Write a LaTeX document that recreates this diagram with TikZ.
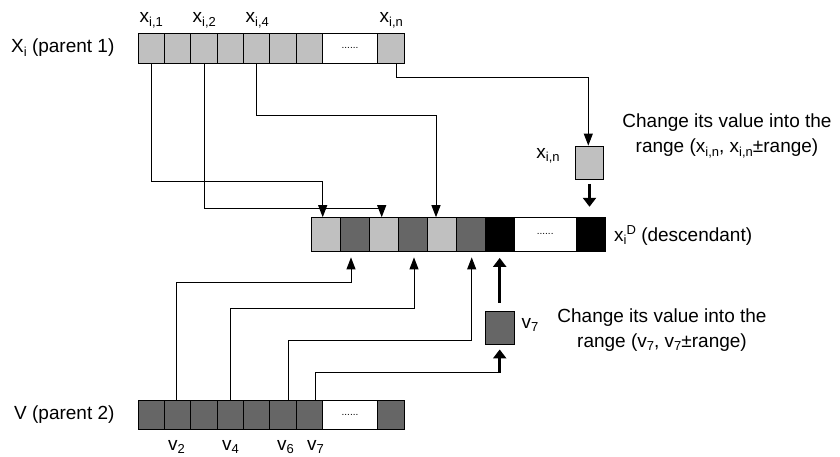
\documentclass[tikz,border=0pt]{standalone}
\usepackage{fontspec}
\setmainfont{Liberation Sans}
\usetikzlibrary{arrows.meta,calc}
\definecolor{cellL}{RGB}{192,192,192}
\definecolor{cellD}{RGB}{102,102,102}
\newcommand\sbs[1]{\raisebox{-3.5pt}{\fontsize{13}{13}\selectfont #1}}
\newcommand\sps[1]{\raisebox{7pt}{\fontsize{13}{13}\selectfont #1}}
\newcommand\dotsfill{{\fontsize{10}{10}\selectfont ......}}
\tikzset{
  cellbox/.style={draw=black, line width=0.9pt, inner sep=0pt},
  topcell/.style={cellbox, minimum height=30pt},
  midcell/.style={cellbox, minimum height=33.3pt, minimum width=29pt},
  botcell/.style={cellbox, minimum height=29pt},
  txt/.style={inner sep=0pt, font=\fontsize{19}{25}\selectfont},
  arr/.style={line width=1pt, -{Triangle[length=12pt,width=9pt]}},
  tarr/.style={line width=3pt, -{Triangle[length=9pt,width=13pt]}},
  plain/.style={line width=1pt}
}
\begin{document}
\begin{tikzpicture}[x=1pt,y=-1pt]
\useasboundingbox (0,0) rectangle (840,457);
% top array (parent 1)
\foreach \i in {1,...,7}
  \node[topcell, fill=cellL, minimum width=26.3pt] (t\i) at ({138.3+26.3*(\i-0.5)},48.3) {};
\node[topcell, fill=white, minimum width=55.3pt] (t8) at (350,48.3) {\dotsfill};
\node[topcell, fill=cellL, minimum width=26.6pt] (t9) at (391,48.3) {};
% middle array (descendant)
\foreach \i/\c in {1/cellL,2/cellD,3/cellL,4/cellD,5/cellL,6/cellD,7/black}
  \node[midcell, fill=\c] (m\i) at ({311+29*(\i-0.5)},234.3) {};
\node[midcell, fill=white, minimum width=62.3pt] (m8) at (545.2,234.3) {\dotsfill};
\node[midcell, fill=black, minimum width=29.4pt] (m9) at (591,234.3) {};
% bottom array (parent 2)
\foreach \i in {1,...,7}
  \node[botcell, fill=cellD, minimum width=26.3pt] (b\i) at ({138.3+26.3*(\i-0.5)},414.5) {};
\node[botcell, fill=white, minimum width=55.3pt] (b8) at (350,414.5) {\dotsfill};
\node[botcell, fill=cellD, minimum width=26.6pt] (b9) at (391,414.5) {};
% small boxes
\node[cellbox, fill=cellL, minimum width=27.6pt, minimum height=33.3pt] (xbox) at (589.5,162.7) {};
\node[cellbox, fill=cellD, minimum width=29.3pt, minimum height=33pt] (vbox) at (499.7,327.5) {};
% labels
\node[txt, anchor=west] (lx) at (11,48) {X\sbs{i} (parent 1)};
\node[txt, anchor=west] (lv) at (14,415) {V (parent 2)};
\node[txt, anchor=west] (ld) at (614,235) {x\sbs{i}\sps{D} (descendant)};
\node[txt, align=center] (dx) at (727,136) {Change its value into the\\range (x\sbs{i,n}, x\sbs{i,n}±range)};
\node[txt, align=center] (dv) at (662,330) {Change its value into the\\range (v\sbs{7}, v\sbs{7}±range)};
\node[txt] (lxn) at (548,156) {x\sbs{i,n}};
\node[txt] (lv7) at (530,325) {v\sbs{7}};
\node[txt, anchor=base west] (c1) at (139.5,22.7) {x\sbs{i,1}};
\node[txt, anchor=base west] (c2) at (192.5,22.7) {x\sbs{i,2}};
\node[txt, anchor=base west] (c4) at (245.5,22.7) {x\sbs{i,4}};
\node[txt, anchor=base west] (cn) at (379.5,22.7) {x\sbs{i,n}};
\node[txt, anchor=base west] (v2) at (168,450) {v\sbs{2}};
\node[txt, anchor=base west] (v4) at (222,450) {v\sbs{4}};
\node[txt, anchor=base west] (v6) at (277,450) {v\sbs{6}};
\node[txt, anchor=base west] (v7) at (307,450) {v\sbs{7}};
% connectors from parent 1
\draw[arr] (t1.south) -- ++(0,117.7) -| ([xshift=-2.8pt]m1.north);
\draw[arr] (t3.south) -- ++(0,144.7) -| ([xshift=-1.8pt]m3.north);
\draw[arr] (t5.south) -- ++(0,51.7) -| ([xshift=-5.5pt]m5.north);
\draw[arr] ([xshift=5.7pt]t9.south) -- ++(0,13.7) -| ([xshift=-1.2pt]xbox.north);
\draw[tarr] ([yshift=-4pt]xbox.south) -- ($(xbox.south |- m9.north)+(0,-10.4)$);
% connectors from parent 2
\draw[arr] ([xshift=-1.5pt]b2.north) -- ++(0,-116.7) -| ([shift={(-3.5pt,-6pt)}]m2.south);
\draw[arr] (b4.north) -- ++(0,-91) -| ([shift={(1.5pt,-6pt)}]m4.south);
\draw[arr] ([xshift=5.5pt]b6.north) -- ++(0,-59) -| ([shift={(1.2pt,-6pt)}]m6.south);
\coordinate (vturn) at (499.7,372.7);
\draw[plain] ([xshift=6.5pt]b7.north) |- (vturn);
\draw[tarr, shorten <=-0.5pt] (vturn) -- ([yshift=-5pt]vbox.south);
\draw[tarr] ([yshift=8pt]vbox.north) -- ($(vbox.north |- m7.south)+(0,6.5)$);
\end{tikzpicture}
\end{document}
